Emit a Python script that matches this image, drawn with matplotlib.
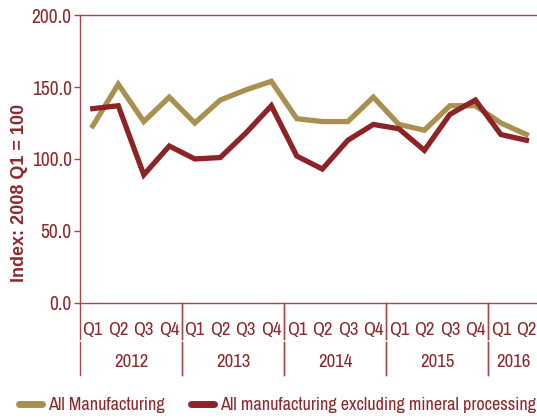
import matplotlib.pyplot as plt
import matplotlib.transforms as mtransforms
from matplotlib.lines import Line2D

plt.rcParams['font.family'] = ['Archivo Narrow', 'DejaVu Sans']

years = ['2012', '2013', '2014', '2015', '2016']
quarters_per_year = [4, 4, 4, 4, 2]
quarter_labels = ['Q1', 'Q2', 'Q3', 'Q4'] * 4 + ['Q1', 'Q2']

all_mfg = [123, 152, 126, 143, 125, 141, 148, 154,
           128, 126, 126, 143, 124, 120, 137, 137, 125, 117]
excl_mineral = [135, 137, 89, 109, 100, 101, 118, 137,
                102, 93, 113, 124, 121, 106, 131, 141, 117, 113]

gold = '#A89050'
maroon = '#8B2327'
text_col = '#8B2A2E'
axis_col = '#A8474B'

fig = plt.figure(figsize=(5.37, 4.2), dpi=100)
ax = fig.add_axes([0.149, 0.279, 0.855, 0.685])

x = list(range(len(quarter_labels)))
ax.plot(x, all_mfg, color=gold, lw=3.8, solid_joinstyle='miter')
ax.plot(x, excl_mineral, color=maroon, lw=3.8, solid_joinstyle='miter')

ax.set_xlim(-0.5, len(x) - 0.5)
ax.set_ylim(0, 200)
ax.set_yticks([0, 50, 100, 150, 200])
ax.set_yticklabels(['%.1f' % v for v in [0, 50, 100, 150, 200]])
ax.tick_params(axis='y', colors=axis_col, labelcolor=text_col, labelsize=14,
               length=4, width=1, pad=2)

ax.set_xticks(x)
ax.set_xticklabels(quarter_labels)
ax.tick_params(axis='x', length=0, labelcolor=text_col, labelsize=13.5, pad=14)

for side in ['left', 'bottom', 'top']:
    ax.spines[side].set_color(axis_col)
    ax.spines[side].set_linewidth(1)
ax.spines['right'].set_visible(False)

# axis title centred on the plot plus the category rows
fig.text(20 / 537, 1 - 193 / 420, 'Index: 2008 Q1 = 100', rotation=90,
         ha='center', va='center', color=text_col, fontsize=13,
         fontweight='bold', family=['Liberation Sans', 'DejaVu Sans'])

# year group labels and separators under the quarter labels
trans = mtransforms.blended_transform_factory(ax.transData, ax.transAxes)
start = -0.5
for year, n in zip(years, quarters_per_year):
    end = start + n
    ax.text((start + end) / 2, -0.205, year, transform=trans, ha='center',
            va='center', color=text_col, fontsize=13.5)
    for bx in [start, end]:
        ax.plot([bx, bx], [0, -0.125], transform=trans, color=axis_col,
                lw=1, clip_on=False)
        ax.plot([bx, bx], [-0.135, -0.25], transform=trans, color=axis_col,
                lw=1, clip_on=False)
    start = end

handles = [Line2D([], [], color=gold, lw=5, solid_capstyle='round'),
           Line2D([], [], color=maroon, lw=5, solid_capstyle='round')]
leg = fig.legend(handles, ['All Manufacturing',
                           'All manufacturing excluding mineral processing'],
                 loc='center left', bbox_to_anchor=(0.036, 0.036), ncol=2,
                 frameon=False, fontsize=13.1, handlelength=1.25,
                 handletextpad=0.3, columnspacing=1.5, labelcolor=text_col,
                 borderpad=0, borderaxespad=0)

fig.savefig('out.png', dpi=100)
